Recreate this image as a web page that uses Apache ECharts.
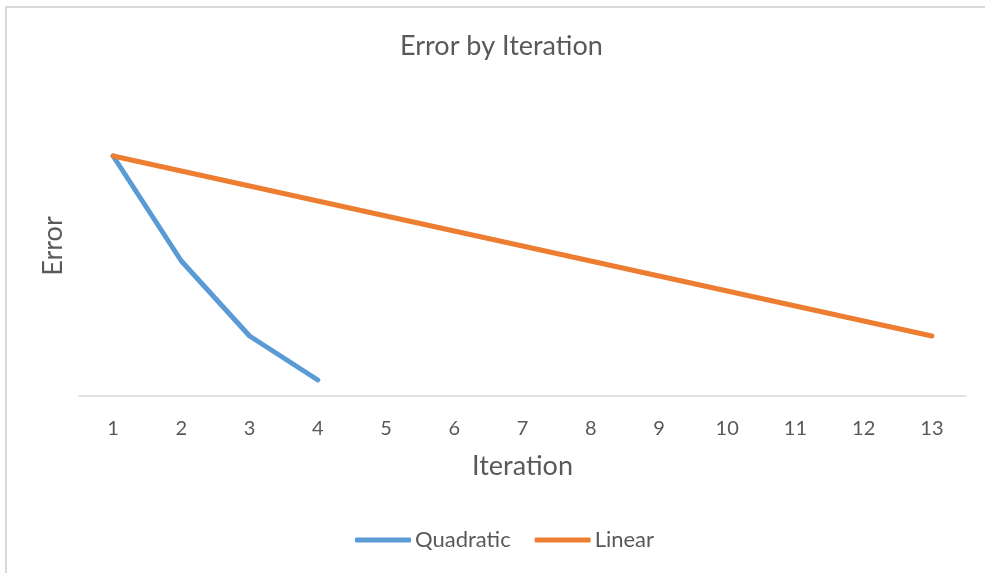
<!DOCTYPE html>
<html>
<head>
<meta charset="utf-8" />
<title>Error by Iteration</title>
<script src="https://cdn.jsdelivr.net/npm/echarts@6/dist/echarts.min.js"></script>
<style>
  html, body { margin: 0; padding: 0; background: #fff; }
  #main { width: 985px; height: 573px; }
</style>
</head>
<body>
<div id="main"></div>
<script>
// chart data
var iterations = ['1', '2', '3', '4', '5', '6', '7', '8', '9', '10', '11', '12', '13'];
var quadratic = [240, 135, 60, 16];
var linear = [240, 225, 210, 195, 180, 165, 150, 135, 120, 105, 90, 75, 60];

var chart = echarts.init(document.getElementById('main'));
var txt = '#595959';
var font = 'Lato, "Open Sans", sans-serif';

chart.setOption({
  backgroundColor: '#fff',
  animation: false,
  textStyle: { fontFamily: font },
  title: {
    text: 'Error by Iteration',
    left: 395,
    top: 28,
    textStyle: { color: txt, fontSize: 27, fontWeight: 'normal', fontFamily: font }
  },
  // outer chart border
  graphic: [{
    type: 'rect',
    shape: { x: 6, y: 7, width: 1100, height: 700 },
    style: { fill: null, stroke: '#d9d9d9', lineWidth: 2 },
    silent: true
  }],
  legend: {
    bottom: 17,
    left: 350,
    itemWidth: 56,
    itemHeight: 5,
    itemGap: 24,
    icon: 'roundRect',
    textStyle: { color: txt, fontSize: 22, fontFamily: font, padding: [0, 0, 0, -1] },
    data: ['Quadratic', 'Linear']
  },
  grid: { left: 79, right: 19, top: 96, bottom: 177 },
  xAxis: {
    type: 'category',
    data: iterations,
    boundaryGap: true,
    name: 'Iteration',
    nameLocation: 'middle',
    nameGap: 57,
    nameTextStyle: { color: txt, fontSize: 27, fontFamily: font },
    axisLine: { lineStyle: { color: '#d9d9d9', width: 1.5 } },
    axisTick: { show: false },
    axisLabel: { color: txt, fontSize: 20, margin: 23 }
  },
  yAxis: {
    type: 'value',
    min: 0,
    max: 300,
    name: 'Error',
    nameLocation: 'middle',
    nameGap: 12,
    nameTextStyle: { color: txt, fontSize: 27, fontFamily: font },
    axisLine: { show: false },
    axisTick: { show: false },
    axisLabel: { show: false },
    splitLine: { show: false }
  },
  series: [{
    name: 'Quadratic',
    type: 'line',
    data: quadratic,
    showSymbol: false,
    symbol: 'none',
    color: '#5b9bd5',
    lineStyle: { width: 5, color: '#5b9bd5', cap: 'round', join: 'round' }
  }, {
    name: 'Linear',
    type: 'line',
    data: linear,
    showSymbol: false,
    symbol: 'none',
    color: '#ed7d31',
    lineStyle: { width: 5, color: '#ed7d31', cap: 'round', join: 'round' }
  }]
});

window.onresize = function() {
  chart.resize();
};
</script>
</body>
</html>
